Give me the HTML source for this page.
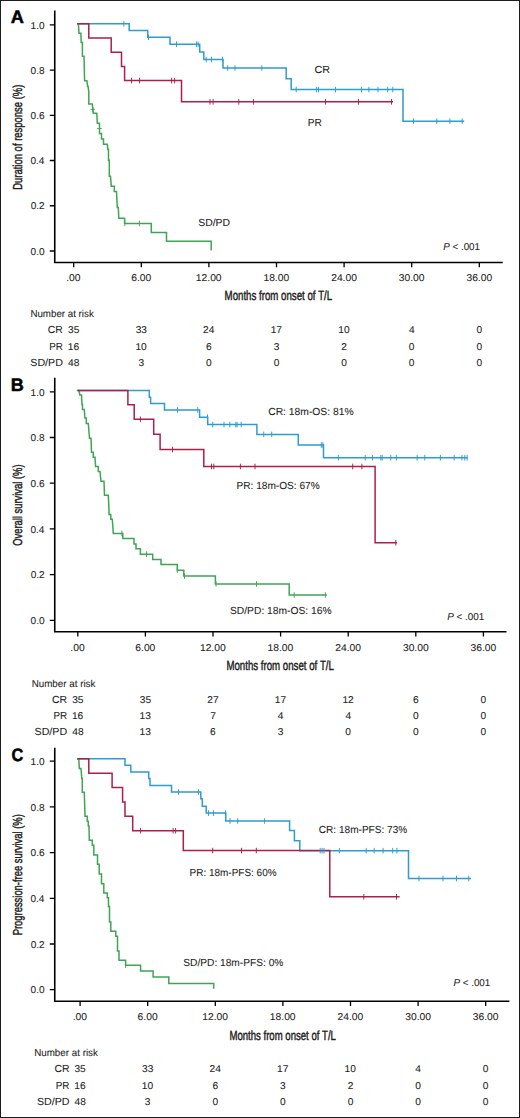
<!DOCTYPE html><html><head><meta charset="utf-8"><style>html,body{margin:0;padding:0;background:#fff;}body{width:520px;height:1118px;overflow:hidden;}svg{display:block;font-family:"Liberation Sans",sans-serif;text-rendering:geometricPrecision;font-kerning:none;}</style></head><body>
<svg width="520" height="1118" viewBox="0 0 520 1118">
<rect x="0" y="0" width="520" height="1118" fill="#fff"/>
<rect x="0.5" y="0.5" width="519" height="1117" fill="none" stroke="#1c1c1c" stroke-width="1"/>
<g fill="#1e1e1e" stroke="#1e1e1e" stroke-width="0.08">
<text x="10.80" y="23.45" font-size="18.0" textLength="13.13" lengthAdjust="spacingAndGlyphs" font-weight="bold" fill="#000" stroke="#000" stroke-width="0.5">A</text>
<path d="M54.75,10.5 V262.5 H502.7" fill="none" stroke="#000" stroke-width="1.6"/>
<text x="30.56" y="28.50" font-size="9.9" textLength="14.04" lengthAdjust="spacingAndGlyphs">1.0</text>
<text x="30.60" y="73.74" font-size="9.9" textLength="14.04" lengthAdjust="spacingAndGlyphs">0.8</text>
<text x="30.61" y="118.98" font-size="9.9" textLength="14.04" lengthAdjust="spacingAndGlyphs">0.6</text>
<text x="30.46" y="164.22" font-size="9.9" textLength="14.04" lengthAdjust="spacingAndGlyphs">0.4</text>
<text x="30.67" y="209.46" font-size="9.9" textLength="14.04" lengthAdjust="spacingAndGlyphs">0.2</text>
<text x="30.56" y="254.70" font-size="9.9" textLength="14.04" lengthAdjust="spacingAndGlyphs">0.0</text>
<text x="66.27" y="281.00" font-size="9.9" textLength="14.31" lengthAdjust="spacingAndGlyphs">.00</text>
<text x="131.22" y="281.00" font-size="9.9" textLength="20.04" lengthAdjust="spacingAndGlyphs">6.00</text>
<text x="195.83" y="281.00" font-size="9.9" textLength="25.77" lengthAdjust="spacingAndGlyphs">12.00</text>
<text x="263.43" y="281.00" font-size="9.9" textLength="25.77" lengthAdjust="spacingAndGlyphs">18.00</text>
<text x="331.16" y="281.00" font-size="9.9" textLength="25.77" lengthAdjust="spacingAndGlyphs">24.00</text>
<text x="398.82" y="281.00" font-size="9.9" textLength="25.77" lengthAdjust="spacingAndGlyphs">30.00</text>
<text x="466.42" y="281.00" font-size="9.9" textLength="25.77" lengthAdjust="spacingAndGlyphs">36.00</text>
<path d="M49.8,24.80 H54.75 M49.8,70.04 H54.75 M49.8,115.28 H54.75 M49.8,160.52 H54.75 M49.8,205.76 H54.75 M49.8,251.00 H54.75 M73.70,262.5 V267.3 M141.30,262.5 V267.3 M208.90,262.5 V267.3 M276.50,262.5 V267.3 M344.10,262.5 V267.3 M411.70,262.5 V267.3 M479.30,262.5 V267.3 " fill="none" stroke="#000" stroke-width="1.3"/>
<text x="443.20" y="249.7" font-size="10.0" textLength="36.78" lengthAdjust="spacingAndGlyphs"><tspan font-style="italic">P</tspan> &lt; .001</text>
<text x="224.61" y="299.80" font-size="13.3" textLength="107.51" lengthAdjust="spacingAndGlyphs" stroke="#1e1e1e" stroke-width="0.45">Months from onset of T/L</text>
<text transform="translate(22.30,0) rotate(-90)" x="-189.78" y="0" font-size="13.0" textLength="105.16" lengthAdjust="spacingAndGlyphs" stroke="#1e1e1e" stroke-width="0.45">Duration of response (%)</text>
<text x="30.40" y="316.90" font-size="10.0" textLength="63.39" lengthAdjust="spacingAndGlyphs">Number at risk</text>
<text x="47.87" y="333.40" font-size="10.2" textLength="15.01" lengthAdjust="spacingAndGlyphs">CR</text>
<text x="68.05" y="333.40" font-size="9.9" textLength="11.34" lengthAdjust="spacingAndGlyphs">35</text>
<text x="135.66" y="333.40" font-size="9.9" textLength="11.34" lengthAdjust="spacingAndGlyphs">33</text>
<text x="203.12" y="333.40" font-size="9.9" textLength="11.34" lengthAdjust="spacingAndGlyphs">24</text>
<text x="270.70" y="333.40" font-size="9.9" textLength="11.34" lengthAdjust="spacingAndGlyphs">17</text>
<text x="338.24" y="333.40" font-size="9.9" textLength="11.34" lengthAdjust="spacingAndGlyphs">10</text>
<text x="408.90" y="333.40" font-size="9.9" textLength="5.67" lengthAdjust="spacingAndGlyphs">4</text>
<text x="476.46" y="333.40" font-size="9.9" textLength="5.67" lengthAdjust="spacingAndGlyphs">0</text>
<text x="49.19" y="349.50" font-size="10.2" textLength="13.66" lengthAdjust="spacingAndGlyphs">PR</text>
<text x="67.86" y="349.50" font-size="9.9" textLength="11.34" lengthAdjust="spacingAndGlyphs">16</text>
<text x="135.44" y="349.50" font-size="9.9" textLength="11.34" lengthAdjust="spacingAndGlyphs">10</text>
<text x="206.03" y="349.50" font-size="9.9" textLength="5.67" lengthAdjust="spacingAndGlyphs">6</text>
<text x="273.69" y="349.50" font-size="9.9" textLength="5.67" lengthAdjust="spacingAndGlyphs">3</text>
<text x="341.26" y="349.50" font-size="9.9" textLength="5.67" lengthAdjust="spacingAndGlyphs">2</text>
<text x="408.86" y="349.50" font-size="9.9" textLength="5.67" lengthAdjust="spacingAndGlyphs">0</text>
<text x="476.46" y="349.50" font-size="9.9" textLength="5.67" lengthAdjust="spacingAndGlyphs">0</text>
<text x="30.32" y="365.60" font-size="10.2" textLength="32.59" lengthAdjust="spacingAndGlyphs">SD/PD</text>
<text x="68.13" y="365.60" font-size="9.9" textLength="11.34" lengthAdjust="spacingAndGlyphs">48</text>
<text x="138.49" y="365.60" font-size="9.9" textLength="5.67" lengthAdjust="spacingAndGlyphs">3</text>
<text x="206.06" y="365.60" font-size="9.9" textLength="5.67" lengthAdjust="spacingAndGlyphs">0</text>
<text x="273.66" y="365.60" font-size="9.9" textLength="5.67" lengthAdjust="spacingAndGlyphs">0</text>
<text x="341.26" y="365.60" font-size="9.9" textLength="5.67" lengthAdjust="spacingAndGlyphs">0</text>
<text x="408.86" y="365.60" font-size="9.9" textLength="5.67" lengthAdjust="spacingAndGlyphs">0</text>
<text x="476.46" y="365.60" font-size="9.9" textLength="5.67" lengthAdjust="spacingAndGlyphs">0</text>
<text x="10.84" y="390.75" font-size="18.0" textLength="13.03" lengthAdjust="spacingAndGlyphs" font-weight="bold" fill="#000" stroke="#000" stroke-width="0.5">B</text>
<path d="M54.75,377.8 V631.7 H506.5" fill="none" stroke="#000" stroke-width="1.6"/>
<text x="30.56" y="395.50" font-size="9.9" textLength="14.04" lengthAdjust="spacingAndGlyphs">1.0</text>
<text x="30.60" y="441.20" font-size="9.9" textLength="14.04" lengthAdjust="spacingAndGlyphs">0.8</text>
<text x="30.61" y="486.90" font-size="9.9" textLength="14.04" lengthAdjust="spacingAndGlyphs">0.6</text>
<text x="30.46" y="532.60" font-size="9.9" textLength="14.04" lengthAdjust="spacingAndGlyphs">0.4</text>
<text x="30.67" y="578.30" font-size="9.9" textLength="14.04" lengthAdjust="spacingAndGlyphs">0.2</text>
<text x="30.56" y="624.00" font-size="9.9" textLength="14.04" lengthAdjust="spacingAndGlyphs">0.0</text>
<text x="70.37" y="650.90" font-size="9.9" textLength="14.31" lengthAdjust="spacingAndGlyphs">.00</text>
<text x="135.32" y="650.90" font-size="9.9" textLength="20.04" lengthAdjust="spacingAndGlyphs">6.00</text>
<text x="199.93" y="650.90" font-size="9.9" textLength="25.77" lengthAdjust="spacingAndGlyphs">12.00</text>
<text x="267.53" y="650.90" font-size="9.9" textLength="25.77" lengthAdjust="spacingAndGlyphs">18.00</text>
<text x="335.26" y="650.90" font-size="9.9" textLength="25.77" lengthAdjust="spacingAndGlyphs">24.00</text>
<text x="402.92" y="650.90" font-size="9.9" textLength="25.77" lengthAdjust="spacingAndGlyphs">30.00</text>
<text x="470.52" y="650.90" font-size="9.9" textLength="25.77" lengthAdjust="spacingAndGlyphs">36.00</text>
<path d="M49.8,391.80 H54.75 M49.8,437.50 H54.75 M49.8,483.20 H54.75 M49.8,528.90 H54.75 M49.8,574.60 H54.75 M49.8,620.30 H54.75 M77.80,631.7 V636.5 M145.40,631.7 V636.5 M213.00,631.7 V636.5 M280.60,631.7 V636.5 M348.20,631.7 V636.5 M415.80,631.7 V636.5 M483.40,631.7 V636.5 " fill="none" stroke="#000" stroke-width="1.3"/>
<text x="447.20" y="619.7" font-size="10.0" textLength="37.09" lengthAdjust="spacingAndGlyphs"><tspan font-style="italic">P</tspan> &lt; .001</text>
<text x="226.41" y="670.00" font-size="13.3" textLength="107.51" lengthAdjust="spacingAndGlyphs" stroke="#1e1e1e" stroke-width="0.45">Months from onset of T/L</text>
<text transform="translate(22.30,0) rotate(-90)" x="-545.84" y="0" font-size="13.0" textLength="81.43" lengthAdjust="spacingAndGlyphs" stroke="#1e1e1e" stroke-width="0.45">Overall survival (%)</text>
<text x="31.70" y="686.90" font-size="10.0" textLength="63.69" lengthAdjust="spacingAndGlyphs">Number at risk</text>
<text x="52.07" y="702.60" font-size="10.2" textLength="15.01" lengthAdjust="spacingAndGlyphs">CR</text>
<text x="72.15" y="702.60" font-size="9.9" textLength="11.34" lengthAdjust="spacingAndGlyphs">35</text>
<text x="139.75" y="702.60" font-size="9.9" textLength="11.34" lengthAdjust="spacingAndGlyphs">35</text>
<text x="207.33" y="702.60" font-size="9.9" textLength="11.34" lengthAdjust="spacingAndGlyphs">27</text>
<text x="274.80" y="702.60" font-size="9.9" textLength="11.34" lengthAdjust="spacingAndGlyphs">17</text>
<text x="342.40" y="702.60" font-size="9.9" textLength="11.34" lengthAdjust="spacingAndGlyphs">12</text>
<text x="412.93" y="702.60" font-size="9.9" textLength="5.67" lengthAdjust="spacingAndGlyphs">6</text>
<text x="480.56" y="702.60" font-size="9.9" textLength="5.67" lengthAdjust="spacingAndGlyphs">0</text>
<text x="53.39" y="718.80" font-size="10.2" textLength="13.66" lengthAdjust="spacingAndGlyphs">PR</text>
<text x="71.96" y="718.80" font-size="9.9" textLength="11.34" lengthAdjust="spacingAndGlyphs">16</text>
<text x="139.56" y="718.80" font-size="9.9" textLength="11.34" lengthAdjust="spacingAndGlyphs">13</text>
<text x="210.16" y="718.80" font-size="9.9" textLength="5.67" lengthAdjust="spacingAndGlyphs">7</text>
<text x="277.80" y="718.80" font-size="9.9" textLength="5.67" lengthAdjust="spacingAndGlyphs">4</text>
<text x="345.40" y="718.80" font-size="9.9" textLength="5.67" lengthAdjust="spacingAndGlyphs">4</text>
<text x="412.96" y="718.80" font-size="9.9" textLength="5.67" lengthAdjust="spacingAndGlyphs">0</text>
<text x="480.56" y="718.80" font-size="9.9" textLength="5.67" lengthAdjust="spacingAndGlyphs">0</text>
<text x="34.52" y="735.20" font-size="10.2" textLength="32.59" lengthAdjust="spacingAndGlyphs">SD/PD</text>
<text x="72.23" y="735.20" font-size="9.9" textLength="11.34" lengthAdjust="spacingAndGlyphs">48</text>
<text x="139.56" y="735.20" font-size="9.9" textLength="11.34" lengthAdjust="spacingAndGlyphs">13</text>
<text x="210.13" y="735.20" font-size="9.9" textLength="5.67" lengthAdjust="spacingAndGlyphs">6</text>
<text x="277.79" y="735.20" font-size="9.9" textLength="5.67" lengthAdjust="spacingAndGlyphs">3</text>
<text x="345.36" y="735.20" font-size="9.9" textLength="5.67" lengthAdjust="spacingAndGlyphs">0</text>
<text x="412.96" y="735.20" font-size="9.9" textLength="5.67" lengthAdjust="spacingAndGlyphs">0</text>
<text x="480.56" y="735.20" font-size="9.9" textLength="5.67" lengthAdjust="spacingAndGlyphs">0</text>
<text x="11.38" y="760.55" font-size="18.0" textLength="11.82" lengthAdjust="spacingAndGlyphs" font-weight="bold" fill="#000" stroke="#000" stroke-width="0.5">C</text>
<path d="M54.75,747.8 V1001.3 H509.4" fill="none" stroke="#000" stroke-width="1.6"/>
<text x="30.56" y="764.90" font-size="9.9" textLength="14.04" lengthAdjust="spacingAndGlyphs">1.0</text>
<text x="30.60" y="810.60" font-size="9.9" textLength="14.04" lengthAdjust="spacingAndGlyphs">0.8</text>
<text x="30.61" y="856.30" font-size="9.9" textLength="14.04" lengthAdjust="spacingAndGlyphs">0.6</text>
<text x="30.46" y="902.00" font-size="9.9" textLength="14.04" lengthAdjust="spacingAndGlyphs">0.4</text>
<text x="30.67" y="947.70" font-size="9.9" textLength="14.04" lengthAdjust="spacingAndGlyphs">0.2</text>
<text x="30.56" y="993.40" font-size="9.9" textLength="14.04" lengthAdjust="spacingAndGlyphs">0.0</text>
<text x="72.67" y="1020.30" font-size="9.9" textLength="14.31" lengthAdjust="spacingAndGlyphs">.00</text>
<text x="137.62" y="1020.30" font-size="9.9" textLength="20.04" lengthAdjust="spacingAndGlyphs">6.00</text>
<text x="202.23" y="1020.30" font-size="9.9" textLength="25.77" lengthAdjust="spacingAndGlyphs">12.00</text>
<text x="269.83" y="1020.30" font-size="9.9" textLength="25.77" lengthAdjust="spacingAndGlyphs">18.00</text>
<text x="337.56" y="1020.30" font-size="9.9" textLength="25.77" lengthAdjust="spacingAndGlyphs">24.00</text>
<text x="405.22" y="1020.30" font-size="9.9" textLength="25.77" lengthAdjust="spacingAndGlyphs">30.00</text>
<text x="472.82" y="1020.30" font-size="9.9" textLength="25.77" lengthAdjust="spacingAndGlyphs">36.00</text>
<path d="M49.8,761.20 H54.75 M49.8,806.90 H54.75 M49.8,852.60 H54.75 M49.8,898.30 H54.75 M49.8,944.00 H54.75 M49.8,989.70 H54.75 M80.10,1001.3 V1006.0999999999999 M147.70,1001.3 V1006.0999999999999 M215.30,1001.3 V1006.0999999999999 M282.90,1001.3 V1006.0999999999999 M350.50,1001.3 V1006.0999999999999 M418.10,1001.3 V1006.0999999999999 M485.70,1001.3 V1006.0999999999999 " fill="none" stroke="#000" stroke-width="1.3"/>
<text x="453.40" y="985.9" font-size="10.0" textLength="36.88" lengthAdjust="spacingAndGlyphs"><tspan font-style="italic">P</tspan> &lt; .001</text>
<text x="229.41" y="1040.00" font-size="13.3" textLength="106.50" lengthAdjust="spacingAndGlyphs" stroke="#1e1e1e" stroke-width="0.45">Months from onset of T/L</text>
<text transform="translate(22.30,0) rotate(-90)" x="-935.27" y="0" font-size="13.0" textLength="121.05" lengthAdjust="spacingAndGlyphs" stroke="#1e1e1e" stroke-width="0.45">Progression-free survival (%)</text>
<text x="34.20" y="1056.30" font-size="10.0" textLength="63.69" lengthAdjust="spacingAndGlyphs">Number at risk</text>
<text x="54.47" y="1072.20" font-size="10.2" textLength="15.01" lengthAdjust="spacingAndGlyphs">CR</text>
<text x="74.45" y="1072.20" font-size="9.9" textLength="11.34" lengthAdjust="spacingAndGlyphs">35</text>
<text x="142.06" y="1072.20" font-size="9.9" textLength="11.34" lengthAdjust="spacingAndGlyphs">33</text>
<text x="209.52" y="1072.20" font-size="9.9" textLength="11.34" lengthAdjust="spacingAndGlyphs">24</text>
<text x="277.10" y="1072.20" font-size="9.9" textLength="11.34" lengthAdjust="spacingAndGlyphs">17</text>
<text x="344.64" y="1072.20" font-size="9.9" textLength="11.34" lengthAdjust="spacingAndGlyphs">10</text>
<text x="415.30" y="1072.20" font-size="9.9" textLength="5.67" lengthAdjust="spacingAndGlyphs">4</text>
<text x="482.86" y="1072.20" font-size="9.9" textLength="5.67" lengthAdjust="spacingAndGlyphs">0</text>
<text x="55.79" y="1088.50" font-size="10.2" textLength="13.66" lengthAdjust="spacingAndGlyphs">PR</text>
<text x="74.26" y="1088.50" font-size="9.9" textLength="11.34" lengthAdjust="spacingAndGlyphs">16</text>
<text x="141.84" y="1088.50" font-size="9.9" textLength="11.34" lengthAdjust="spacingAndGlyphs">10</text>
<text x="212.43" y="1088.50" font-size="9.9" textLength="5.67" lengthAdjust="spacingAndGlyphs">6</text>
<text x="280.09" y="1088.50" font-size="9.9" textLength="5.67" lengthAdjust="spacingAndGlyphs">3</text>
<text x="347.66" y="1088.50" font-size="9.9" textLength="5.67" lengthAdjust="spacingAndGlyphs">2</text>
<text x="415.26" y="1088.50" font-size="9.9" textLength="5.67" lengthAdjust="spacingAndGlyphs">0</text>
<text x="482.86" y="1088.50" font-size="9.9" textLength="5.67" lengthAdjust="spacingAndGlyphs">0</text>
<text x="36.92" y="1104.50" font-size="10.2" textLength="32.59" lengthAdjust="spacingAndGlyphs">SD/PD</text>
<text x="74.53" y="1104.50" font-size="9.9" textLength="11.34" lengthAdjust="spacingAndGlyphs">48</text>
<text x="144.89" y="1104.50" font-size="9.9" textLength="5.67" lengthAdjust="spacingAndGlyphs">3</text>
<text x="212.46" y="1104.50" font-size="9.9" textLength="5.67" lengthAdjust="spacingAndGlyphs">0</text>
<text x="280.06" y="1104.50" font-size="9.9" textLength="5.67" lengthAdjust="spacingAndGlyphs">0</text>
<text x="347.66" y="1104.50" font-size="9.9" textLength="5.67" lengthAdjust="spacingAndGlyphs">0</text>
<text x="415.26" y="1104.50" font-size="9.9" textLength="5.67" lengthAdjust="spacingAndGlyphs">0</text>
<text x="482.86" y="1104.50" font-size="9.9" textLength="5.67" lengthAdjust="spacingAndGlyphs">0</text>
<text x="314.45" y="72.60" font-size="10.2" textLength="15.55" lengthAdjust="spacingAndGlyphs">CR</text>
<text x="307.77" y="125.90" font-size="10.2" textLength="14.10" lengthAdjust="spacingAndGlyphs">PR</text>
<text x="198.23" y="225.70" font-size="10.2" textLength="31.87" lengthAdjust="spacingAndGlyphs">SD/PD</text>
<text x="268.18" y="414.90" font-size="10.2" textLength="85.49" lengthAdjust="spacingAndGlyphs">CR: 18m-OS: 81%</text>
<text x="236.47" y="488.50" font-size="10.2" textLength="83.29" lengthAdjust="spacingAndGlyphs">PR: 18m-OS: 67%</text>
<text x="230.03" y="614.30" font-size="10.2" textLength="101.53" lengthAdjust="spacingAndGlyphs">SD/PD: 18m-OS: 16%</text>
<text x="318.79" y="832.60" font-size="10.2" textLength="88.47" lengthAdjust="spacingAndGlyphs">CR: 18m-PFS: 73%</text>
<text x="189.58" y="876.00" font-size="10.2" textLength="86.97" lengthAdjust="spacingAndGlyphs">PR: 18m-PFS: 60%</text>
<text x="183.34" y="965.50" font-size="10.2" textLength="100.02" lengthAdjust="spacingAndGlyphs">SD/PD: 18m-PFS: 0%</text>
</g>
<path d="M77.3,23.8 H129.2 V30.6 H147.7 V37.3 H170.0 V44.2 H199.7 V51.9 H203.8 V59.5 H223.0 V68.0 H286.2 V78.8 H291.2 V89.6 H403.0 V121.2 H464.2" fill="none" stroke="#2f9bd0" stroke-width="1.5" stroke-linejoin="miter" stroke-linecap="butt"/>
<path d="M77.2,23.8 H78.4 L79,33.3 H80.9 L81.2,42.6 H82.4 V56.3 H84 L84.6,80.7 H86.9 L87.6,86.3 H88.1 L88.8,92 V103.9 H92.3 L93.3,113.3 H96.8 L97.3,123.3 H99.5 V133.5 H101.5 V139 H103.5 V144.3 H107.3 L107.8,149.3 H108.5 V160.3 H109.3 V176.3 H110.5 L111.3,186.3 H114.3 V191.4 H116.5 L117.3,207.5 H118.3 L118.8,218.3 H124.6 V223.4 H151.3 V232.4 H166.5 V241.2 H211.2 V250.4" fill="none" stroke="#40a455" stroke-width="1.5" stroke-linejoin="miter" stroke-linecap="butt"/>
<path d="M77.3,23.8 H88.8 V38.0 H111.2 V52.2 H121.5 V66.5 H124.6 V80.6 H181.5 V101.8 H393.0" fill="none" stroke="#ac1f48" stroke-width="1.5" stroke-linejoin="miter" stroke-linecap="butt"/>
<path d="M77.8,390.5 H149.3 V397.3 H150.6 V403.5 H164.5 V410.0 H199.6 V417.2 H207.7 V424.6 H256.9 V434.4 H298.3 V445.0 H323.5 V457.7 H467.7" fill="none" stroke="#2f9bd0" stroke-width="1.5" stroke-linejoin="miter" stroke-linecap="butt"/>
<path d="M76.8,390.5 H79 L79.8,395 H81.5 L82,404.5 H82.5 V409.5 H84.3 L84.9,418 H86.3 V423.5 H88.3 L89.5,438.3 H91 L91.5,452.3 H93.3 V457.3 H95 L95.6,466.5 H98.3 V471.5 H100 L101,481.3 H104 L104.5,495.3 H108.3 L109,510 V514.6 H110.8 V519.2 H112.3 L113.3,533.5 H122.8 V538.5 H134 V544 H136 V548.8 H140.4 V554.2 H152.7 V559.4 H161 V564.6 H177.3 V570.2 H183.8 V576.1 H215.4 V583.9 H289.2 V595 H326.9" fill="none" stroke="#40a455" stroke-width="1.5" stroke-linejoin="miter" stroke-linecap="butt"/>
<path d="M77.8,390.5 H127.9 V404.7 H134.2 V419.3 H153.7 V434.3 H160.1 V449.6 H203.8 V466.5 H375.1 V542.8 H397.0" fill="none" stroke="#ac1f48" stroke-width="1.5" stroke-linejoin="miter" stroke-linecap="butt"/>
<path d="M77.5,758.7 H125.0 V765.3 H130.8 V772.0 H148.7 V778.6 H150.0 V785.4 H171.5 V792.0 H200.8 V798.8 H202.3 V806.2 H206.2 V813.1 H225.8 V821.0 H289.6 V830.4 H294.4 V840.8 H299.8 V850.7 H408.5 V878.5 H470.9" fill="none" stroke="#2f9bd0" stroke-width="1.5" stroke-linejoin="miter" stroke-linecap="butt"/>
<path d="M77,759 H78.8 L79.3,768.5 H81 L81.8,778.5 H82.3 V792.3 H84.3 L85,816.3 H87.3 V821.3 H88.3 V826 H89 L89.3,840.3 H92.3 V845.3 H93.8 V855 H97.5 V864.2 H99.2 V874 H101.5 V883.8 H103.8 V893 H107.3 V897.7 H108.5 V906.5 H109.5 V922 H110.8 V931.3 H115.8 V936.3 H117.5 V951 H119 V960.2 H125.6 V965.2 H140.6 V971 H153.1 V977.1 H168.8 V983.5 H213.7 V988.7" fill="none" stroke="#40a455" stroke-width="1.5" stroke-linejoin="miter" stroke-linecap="butt"/>
<path d="M77.5,758.7 H88.8 V773.2 H112.1 V787.4 H122.6 V802.0 H125.0 V816.3 H132.7 V830.7 H183.3 V850.6 H329.8 V896.8 H399.6" fill="none" stroke="#ac1f48" stroke-width="1.5" stroke-linejoin="miter" stroke-linecap="butt"/>
<path d="M123.9,21.0 V26.6 M148.5,34.5 V40.099999999999994 M176.5,41.400000000000006 V47.0 M196.5,41.400000000000006 V47.0 M198.2,41.400000000000006 V47.0 M206.2,56.7 V62.3 M211.5,56.7 V62.3 M222.6,56.7 V62.3 M227.7,65.2 V70.8 M235.0,65.2 V70.8 M261.8,65.2 V70.8 M296.2,86.8 V92.39999999999999 M316.6,86.8 V92.39999999999999 M318.5,86.8 V92.39999999999999 M335.5,86.8 V92.39999999999999 M361.5,86.8 V92.39999999999999 M368.9,86.8 V92.39999999999999 M378.0,86.8 V92.39999999999999 M387.7,86.8 V92.39999999999999 M392.8,86.8 V92.39999999999999 M413.5,118.4 V124.0 M436.8,118.4 V124.0 M449.9,118.4 V124.0 M462.2,118.4 V124.0" fill="none" stroke="#2f9bd0" stroke-width="0.95"/>
<path d="M92.8,106.5 V112.1 M90.6,109.3 H95.0 M99.5,125.7 V131.3 M97.3,128.5 H101.7" fill="none" stroke="#40a455" stroke-width="0.95"/>
<path d="M124.8,220.6 V226.20000000000002 M139.4,220.6 V226.20000000000002" fill="none" stroke="#40a455" stroke-width="0.95"/>
<path d="M131.5,77.8 V83.39999999999999 M139.5,77.8 V83.39999999999999 M171.6,77.8 V83.39999999999999 M174.6,77.8 V83.39999999999999 M210.0,99.0 V104.6 M213.1,99.0 V104.6 M238.8,99.0 V104.6 M253.4,99.0 V104.6 M325.5,99.0 V104.6 M358.5,99.0 V104.6 M391.5,99.0 V104.6" fill="none" stroke="#ac1f48" stroke-width="0.95"/>
<path d="M177.5,407.2 V412.8 M197.7,407.2 V412.8 M207.5,414.4 V420.0 M212.7,421.8 V427.40000000000003 M224.0,421.8 V427.40000000000003 M229.8,421.8 V427.40000000000003 M235.8,421.8 V427.40000000000003 M237.1,421.8 V427.40000000000003 M241.2,421.8 V427.40000000000003 M263.7,431.59999999999997 V437.2 M271.7,431.59999999999997 V437.2 M321.3,442.2 V447.8 M322.9,442.2 V447.8 M338.3,454.9 V460.5 M365.2,454.9 V460.5 M372.5,454.9 V460.5 M380.8,454.9 V460.5 M382.2,454.9 V460.5 M390.8,454.9 V460.5 M396.3,454.9 V460.5 M417.1,454.9 V460.5 M424.8,454.9 V460.5 M440.4,454.9 V460.5 M454.2,454.9 V460.5 M461.9,454.9 V460.5 M464.8,454.9 V460.5 M467.1,454.9 V460.5" fill="none" stroke="#2f9bd0" stroke-width="0.95"/>
<path d="M121.9,530.7 V536.3 M146.5,551.4000000000001 V557.0 M177.3,567.4000000000001 V573.0 M184.5,573.3000000000001 V578.9 M216.0,581.1 V586.6999999999999 M256.5,581.1 V586.6999999999999 M294.2,592.2 V597.8 M325.4,592.2 V597.8" fill="none" stroke="#40a455" stroke-width="0.95"/>
<path d="M140.4,416.5 V422.1 M172.5,446.8 V452.40000000000003 M211.5,463.7 V469.3 M213.8,463.7 V469.3 M240.4,463.7 V469.3 M255.0,463.7 V469.3 M352.7,463.7 V469.3 M361.9,463.7 V469.3 M395.8,540.0 V545.5999999999999" fill="none" stroke="#ac1f48" stroke-width="0.95"/>
<path d="M178.5,789.2 V794.8 M198.5,789.2 V794.8 M208.5,810.3000000000001 V815.9 M213.5,810.3000000000001 V815.9 M225.4,810.3000000000001 V815.9 M230.0,818.2 V823.8 M237.7,818.2 V823.8 M264.6,818.2 V823.8 M320.2,847.9000000000001 V853.5 M322.1,847.9000000000001 V853.5 M324.0,847.9000000000001 V853.5 M339.4,847.9000000000001 V853.5 M366.2,847.9000000000001 V853.5 M374.2,847.9000000000001 V853.5 M383.1,847.9000000000001 V853.5 M392.7,847.9000000000001 V853.5 M396.9,847.9000000000001 V853.5 M419.0,875.7 V881.3 M443.0,875.7 V881.3 M456.5,875.7 V881.3 M468.8,875.7 V881.3" fill="none" stroke="#2f9bd0" stroke-width="0.95"/>
<path d="M125.6,962.4000000000001 V968.0" fill="none" stroke="#40a455" stroke-width="0.95"/>
<path d="M140.6,827.9000000000001 V833.5 M173.1,827.9000000000001 V833.5 M175.6,827.9000000000001 V833.5 M212.7,847.8000000000001 V853.4 M241.5,847.8000000000001 V853.4 M256.3,847.8000000000001 V853.4 M363.8,894.0 V899.5999999999999 M396.5,894.0 V899.5999999999999" fill="none" stroke="#ac1f48" stroke-width="0.95"/>
</svg></body></html>
